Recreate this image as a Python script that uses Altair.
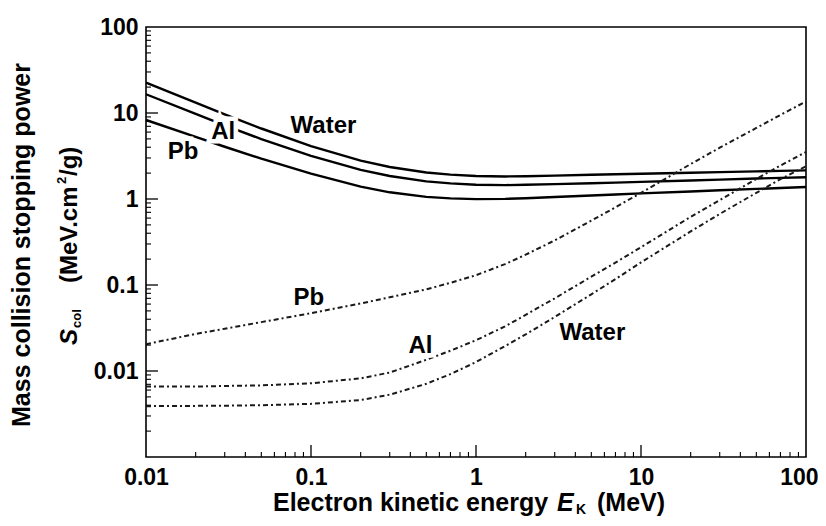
import altair as alt
import pandas as pd

FONT = "Liberation Sans"

# ---- data (MeV, MeV cm^2/g) ----
energy = [0.01, 0.02, 0.03, 0.05, 0.1, 0.2, 0.3, 0.5, 0.7, 1, 1.5, 2, 3, 5, 7, 10, 20, 30, 50, 70, 100]
water_col = [22.56, 13.17, 9.653, 6.603, 4.115, 2.793, 2.355, 2.034, 1.919, 1.849, 1.829, 1.842, 1.870,
             1.911, 1.938, 1.968, 2.023, 2.055, 2.096, 2.123, 2.152]
al_col = [16.52, 9.75, 7.2, 4.97, 3.18, 2.18, 1.85, 1.605, 1.52, 1.465, 1.45, 1.462, 1.488,
          1.525, 1.55, 1.58, 1.64, 1.68, 1.73, 1.76, 1.79]
pb_col = [8.29, 5.27, 4.05, 2.94, 1.97, 1.39, 1.196, 1.06, 1.017, 0.998, 1.004, 1.022, 1.055,
          1.099, 1.128, 1.161, 1.224, 1.262, 1.31, 1.342, 1.377]
water_rad = [0.0039, 0.00393, 0.00395, 0.0040, 0.00415, 0.0046, 0.0053, 0.0071, 0.0092, 0.0127, 0.0195,
             0.0266, 0.0425, 0.078, 0.117, 0.183, 0.42, 0.67, 1.18, 1.70, 2.40]
al_rad = [0.0066, 0.0066, 0.0067, 0.0068, 0.0072, 0.0082, 0.0096, 0.0135, 0.0172, 0.0228, 0.033,
          0.045, 0.070, 0.125, 0.182, 0.275, 0.62, 0.97, 1.71, 2.45, 3.52]
pb_rad = [0.0205, 0.027, 0.031, 0.037, 0.047, 0.061, 0.072, 0.089, 0.106, 0.130, 0.175,
          0.225, 0.33, 0.56, 0.80, 1.18, 2.55, 3.95, 6.7, 9.5, 13.6]

x_tick_labels = [0.01, 0.1, 1, 10, 100]
y_tick_labels = [0.01, 0.1, 1, 10, 100]
x_major = [0.1, 1, 10]
x_minor = [m * 10 ** k for k in range(-2, 2) for m in range(2, 10)]
y_major = [0.01, 0.1, 1, 10]
y_minor = [m * 10 ** k for k in range(-3, 2) for m in range(2, 10)]

# curve labels: text, energy, value
lab_text = ["Water", "Al", "Pb", "Pb", "Al", "Water"]
lab_E = [0.119, 0.0294, 0.0168, 0.0969, 0.461, 5.07]
lab_S = [7.05, 6.09, 3.48, 0.0702, 0.0193, 0.0276]

W, H = 660, 430

rows = []
for name, vals in [("Water", water_col), ("Al", al_col), ("Pb", pb_col)]:
    for e, v in zip(energy, vals):
        rows.append({"E": e, "S": v, "mat": name, "kind": "col"})
for name, vals in [("Water", water_rad), ("Al", al_rad), ("Pb", pb_rad)]:
    for e, v in zip(energy, vals):
        rows.append({"E": e, "S": v, "mat": name, "kind": "rad"})
df = pd.DataFrame(rows)

xscale = alt.Scale(type="log", domain=[0.01, 100], nice=False)
yscale = alt.Scale(type="log", domain=[0.001, 100], nice=False)

common_axis = dict(title=None, grid=False, ticks=False, tickSize=0, domain=False,
                   labelFont=FONT, labelFontSize=23, labelFontWeight="bold", labelColor="black",
                   labelFlush=False, labelOverlap=False, labelBound=False, format="~g")
x_axis = alt.Axis(values=x_tick_labels, labelPadding=9,
                  labelAlign={"condition": {"test": "datum.value >= 100", "value": "right"}, "value": "center"},
                  labelOffset={"condition": {"test": "datum.value >= 100", "value": 12}, "value": 0},
                  **common_axis)
y_axis = alt.Axis(values=y_tick_labels, labelPadding=8, **common_axis)

X = alt.X("E:Q", scale=xscale, axis=x_axis)
Y = alt.Y("S:Q", scale=yscale, axis=y_axis)

solid = alt.Chart(df[df.kind == "col"]).mark_line(color="black", strokeWidth=2.4).encode(
    x=X, y=Y, detail="mat:N")
dashed = alt.Chart(df[df.kind == "rad"]).mark_line(
    color="#1a1a1a", strokeWidth=2, strokeDash=[5, 3, 2, 3]).encode(
    x=X, y=Y, detail="mat:N")

def xticks(vals, length, width):
    return alt.Chart(pd.DataFrame({"E": vals})).mark_rule(color="black", strokeWidth=width).encode(
        x=X, y=alt.value(H), y2=alt.value(H - length))

def yticks(vals, length, width):
    return alt.Chart(pd.DataFrame({"S": vals})).mark_rule(color="black", strokeWidth=width).encode(
        y=Y, x=alt.value(0), x2=alt.value(length))

labdf = pd.DataFrame({"t": lab_text, "E": lab_E, "S": lab_S})
halo = alt.Chart(labdf).mark_text(font=FONT, fontSize=24, fontWeight="bold", color="white",
                                  stroke="white", strokeWidth=9).encode(x=X, y=Y, text="t:N")
labels = alt.Chart(labdf).mark_text(font=FONT, fontSize=24, fontWeight="bold", color="black").encode(
    x=X, y=Y, text="t:N")

def txt(s, x, y, size=24, style="normal", angle=0, align="left", baseline="alphabetic"):
    return alt.Chart(pd.DataFrame({"t": [s]})).mark_text(
        font=FONT, fontSize=size, fontWeight="bold", fontStyle=style, angle=angle,
        align=align, baseline=baseline, color="black").encode(
        text="t:N", x=alt.value(x), y=alt.value(y))

titles = [
    txt("Mass collision stopping power", -124, 218, size=25, angle=270, align="center", baseline="middle"),
    txt("S", -69, 318, style="italic", angle=270),
    txt("col", -65, 301, size=13, angle=270),
    txt("(MeV.cm", -69, 256, angle=270),
    txt("2", -80, 157, size=13, angle=270),
    txt("/g)", -69, 149, angle=270),
    txt("Electron kinetic energy", 127, 484, size=25),
    txt("E", 411, 484, size=25, style="italic"),
    txt("K", 430, 487, size=14),
    txt("(MeV)", 451, 484, size=25),
]

chart = alt.layer(
    solid, dashed,
    xticks(x_major, 12, 1.3), xticks(x_minor, 5, 1.1),
    yticks(y_major, 12, 1.3), yticks(y_minor, 5, 1.1),
    halo, labels, *titles
).properties(
    width=W, height=H,
    background="white",
    autosize=alt.AutoSizeParams(type="none"),
    padding={"left": 138, "top": 19, "right": 12, "bottom": 61},
).configure_view(stroke="black", strokeWidth=1.6)

chart.save("out.html", embed_options={"renderer": "svg", "actions": False})
